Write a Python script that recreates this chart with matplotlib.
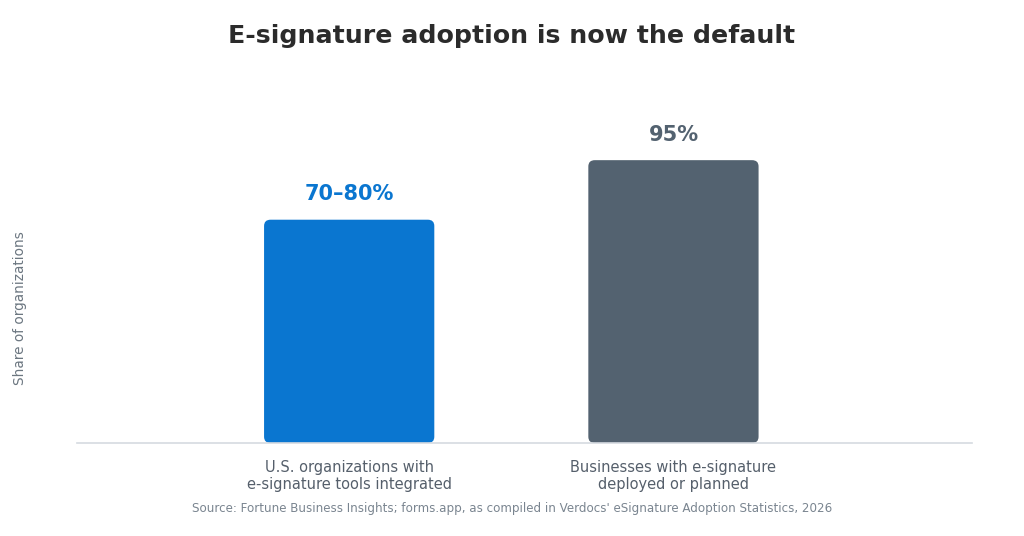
import matplotlib
matplotlib.use("Agg")
from matplotlib import pyplot as plt
from matplotlib.patches import FancyBboxPatch

plt.rcParams["font.family"] = ["DejaVu Sans"]

categories = ["U.S. organizations with\ne-signature tools integrated",
              "Businesses with e-signature\ndeployed or planned"]
values = [75, 95]
value_labels = ["70–80%", "95%"]
bar_colors = ["#0a76d0", "#536270"]

fig = plt.figure(figsize=(10.24, 5.36), dpi=100)
ax = fig.add_axes([0.075, 0.1735, 0.874, 0.686])

x = list(range(len(values)))
width = 0.525
bars = ax.bar(x, values, width=width, color=bar_colors)

ax.set_xlim(-0.84, 1.92)
ax.set_ylim(0, 123.5)

# swap plain bars for rounded ones
rx = 0.02
ry = 2.1
for b, c in zip(bars, bar_colors):
    b.set_visible(False)
    p = FancyBboxPatch((b.get_x(), 0), b.get_width(), b.get_height(),
                       boxstyle=f"round,pad=0,rounding_size={rx}",
                       mutation_aspect=ry / rx, facecolor=c, edgecolor="none")
    ax.add_patch(p)

for xi, v, lab, c in zip(x, values, value_labels, bar_colors):
    ax.annotate(lab, (xi, v), xytext=(0, 11), textcoords="offset points",
                ha="center", va="bottom", fontsize=15, fontweight="bold", color=c)

ax.set_xticks(x)
ax.set_xticklabels(categories, fontsize=10.5, color="#555f6b")
ax.tick_params(axis="x", length=0, pad=12)
ax.set_yticks([])
for s in ["top", "right", "left"]:
    ax.spines[s].set_visible(False)
ax.spines["bottom"].set_color("#d5dae0")
ax.spines["bottom"].set_linewidth(1.2)

fig.text(0.0195, 1 - 308 / 536, "Share of organizations", rotation=90,
         ha="center", va="center", fontsize=9.8, color="#6b7680")

fig.suptitle("E-signature adoption is now the default", fontsize=18.2,
             fontweight="bold", color="#2b2b2b", y=0.955)
fig.text(0.5, 0.052, "Source: Fortune Business Insights; forms.app, as compiled in Verdocs' eSignature Adoption Statistics, 2026",
         ha="center", va="center", fontsize=8.6, color="#7a8590")

fig.savefig("out.png", dpi=100, facecolor="white")
